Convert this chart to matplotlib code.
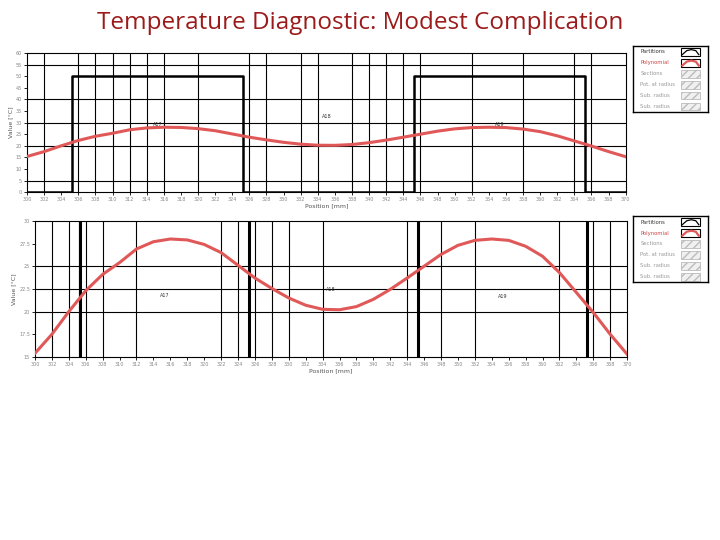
"""
Temperature diagnostic chart: partitions and fitted polynomial along position.
"""
import matplotlib
matplotlib.use('Agg')
import matplotlib.pyplot as plt
from matplotlib.patches import Rectangle

# Polynomial temperature profile
positions = [300, 302, 304, 306, 308, 310, 312, 314, 316, 318, 320, 322, 324, 326,
             328, 330, 332, 334, 336, 338, 340, 342, 344, 346, 348, 350, 352, 354,
             356, 358, 360, 362, 364, 366, 368, 370]
temperature = [15.4, 17.5, 20.0, 22.3, 24.1, 25.4, 26.9, 27.7, 28.0, 27.9, 27.4, 26.5,
               25.1, 23.7, 22.55, 21.5, 20.7, 20.25, 20.2, 20.55, 21.35, 22.45, 23.7,
               25.0, 26.3, 27.3, 27.85, 28.0, 27.85, 27.2, 26.1, 24.3, 22.1, 19.9,
               17.5, 15.3]

# Partition step signal
partition_x = [300, 305.3, 305.3, 325.3, 325.3, 345.3, 345.3, 365.3, 365.3, 370]
partition_y = [0, 0, 50, 50, 0, 0, 50, 50, 0, 0]

# Region labels
region_names = ['A17', 'A18', 'A19']
region_x = [315.3, 335.0, 355.3]
region_y_top = [28.0, 31.4, 28.0]
region_y_bottom = [21.8, 22.4, 21.7]

# Reference lines
top_vlines = [302, 306, 308, 310, 312, 314, 316, 320, 326, 328, 332, 334, 338, 340,
              342, 344, 346, 352, 358, 364, 366]
top_hlines = [5, 20, 30, 40, 55]
bottom_vlines = [302, 304, 305.2, 306, 308, 312, 322, 324, 326, 328, 330, 334, 344,
                 348, 352, 362, 366, 368]
bottom_hlines = [20, 22.5, 25]

legend_labels = ['Partitions', 'Polynomial', 'Sections', 'Pot. at radius',
                 'Sub. radius', 'Sub. radius']
legend_text_colors = ['#333333', '#cc4444', '#999999', '#999999', '#999999', '#999999']

RED = '#e05858'
TICK_COLOR = '#888888'

fig = plt.figure(figsize=(7.2, 5.4), dpi=100)
fig.text(0.5, 0.957, 'Temperature Diagnostic: Modest Complication',
         ha='center', va='center', fontsize=17.5, color='#9b1b1b', family='Open Sans')


def style_axes(ax, xticks, yticks, ytick_labels):
    ax.set_xlim(300, 370)
    ax.set_xticks(xticks)
    ax.set_xticklabels([str(t) for t in xticks])
    ax.set_yticks(yticks)
    ax.set_yticklabels(ytick_labels)
    ax.tick_params(labelsize=3.5, colors='black', labelcolor=TICK_COLOR,
                   length=2, width=0.6, pad=1.5)
    for s in ax.spines.values():
        s.set_linewidth(0.8)
    ax.set_xlabel('Position [mm]', fontsize=4.5, color='#555555', labelpad=1)
    ax.set_ylabel('Value [°C]', fontsize=4.5, color='#555555', labelpad=2)


def draw_legend(rect):
    lax = fig.add_axes(rect)
    lax.set_xlim(0, 1)
    lax.set_ylim(0, 1)
    lax.set_xticks([])
    lax.set_yticks([])
    for s in lax.spines.values():
        s.set_linewidth(1.0)
    n = len(legend_labels)
    for i, (lab, col) in enumerate(zip(legend_labels, legend_text_colors)):
        yc = 1 - (i + 0.55) / n
        lax.text(0.1, yc, lab, fontsize=3.8, color=col, va='center', ha='left')
        if i < 2:
            lax.add_patch(Rectangle((0.64, yc - 0.055), 0.26, 0.11, fill=False,
                                    edgecolor='black', linewidth=0.8))
            ic = 'black' if i == 0 else RED
            lw = 0.9 if i == 0 else 1.6
            lax.plot([0.66, 0.72, 0.78, 0.84, 0.88],
                     [yc - 0.04, yc + 0.02, yc + 0.035, yc + 0.02, yc - 0.04],
                     color=ic, lw=lw)
        else:
            lax.add_patch(Rectangle((0.64, yc - 0.055), 0.26, 0.11,
                                    facecolor='#f0f0f0', edgecolor='#bbbbbb',
                                    linewidth=0.6, hatch='////'))


# Top chart
ax1 = fig.add_axes([0.0375, 0.644, 0.8315, 0.258])
for v in top_vlines:
    ax1.axvline(v, color='black', lw=0.8, zorder=1)
for h in top_hlines:
    ax1.axhline(h, color='black', lw=0.8, zorder=1)
ax1.plot(partition_x, partition_y, color='black', lw=1.8, zorder=2)
ax1.plot(positions, temperature, color=RED, lw=2.2, zorder=3)
for name, x, y in zip(region_names, region_x, region_y_top):
    ax1.text(x, y, name, fontsize=3.5, color='#333333', ha='center', va='bottom')
ax1.set_ylim(0, 60)
style_axes(ax1, list(range(300, 371, 2)), list(range(0, 61, 5)),
           [str(t) for t in range(0, 61, 5)])
draw_legend([0.879, 0.793, 0.104, 0.122])

# Bottom chart
ax2 = fig.add_axes([0.0486, 0.339, 0.8224, 0.252])
for v in bottom_vlines:
    ax2.axvline(v, color='black', lw=0.8, zorder=1)
for h in bottom_hlines:
    ax2.axhline(h, color='black', lw=0.8, zorder=1)
ax2.plot(partition_x, partition_y, color='black', lw=2.2, zorder=2)
ax2.plot(positions, temperature, color=RED, lw=2.2, zorder=3)
for name, x, y in zip(region_names, region_x, region_y_bottom):
    ax2.text(x, y, name, fontsize=3.5, color='#333333', ha='center', va='center')
ax2.set_ylim(15, 30)
bottom_yticks = [15, 17.5, 20, 22.5, 25, 27.5, 30]
style_axes(ax2, list(range(300, 371, 2)), bottom_yticks,
           ['15', '17.5', '20', '22.5', '25', '27.5', '30'])
draw_legend([0.879, 0.478, 0.104, 0.122])

fig.savefig('out.png', dpi=100)
